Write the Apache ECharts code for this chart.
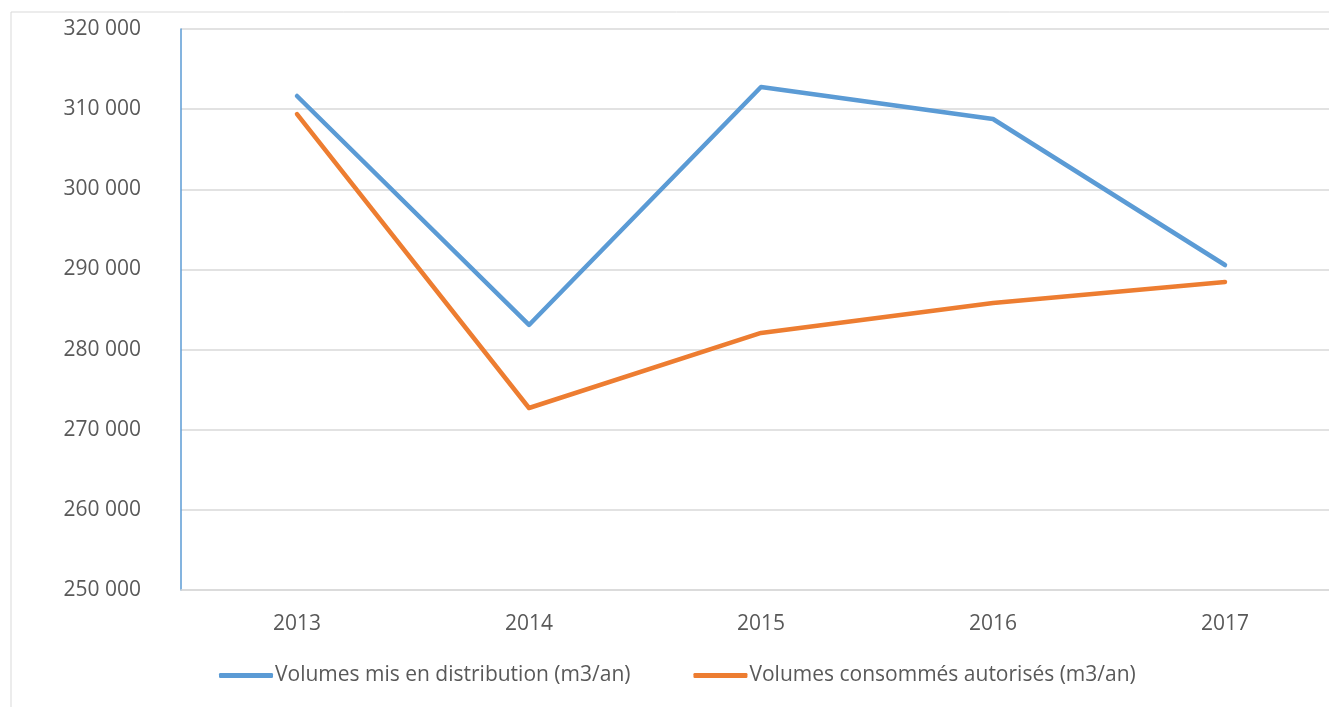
<!DOCTYPE html>
<html><head><meta charset="utf-8">
<script src="https://cdn.jsdelivr.net/npm/echarts@6/dist/echarts.min.js"></script>
<style>html,body{margin:0;padding:0;background:#fff;overflow:hidden}#c{width:1341px;height:707px}</style>
</head><body><div id="c"></div>
<script>
const categories = ['2013','2014','2015','2016','2017'];
const seriesNames = ['Volumes mis en distribution (m3/an)','Volumes consommés autorisés (m3/an)'];
const distribution = [311640, 283070, 312760, 308770, 290550];
const consommes = [309390, 272710, 282070, 285810, 288430];
const yTicks = {min:250000, max:320000, interval:10000};

const chart = echarts.init(document.getElementById('c'));
const font = "'Open Sans', 'Liberation Sans', sans-serif";
chart.setOption({
  animation:false,
  graphic:[{type:'rect',shape:{x:11,y:12,width:1400,height:800},style:{fill:'none',stroke:'#d9d9d9',lineWidth:1},z:-1}],
  grid:{left:181, right:0, top:29, bottom:117, containLabel:false},
  legend:{
    bottom:16, left:214, itemWidth:54, itemHeight:5, itemGap:63,
    icon:'roundRect',
    textStyle:{color:'#595959', fontSize:21, fontFamily:font, padding:[0,0,0,-3]},
    data:seriesNames
  },
  xAxis:{type:'category', data:categories, boundaryGap:true,
    axisLine:{lineStyle:{color:'#d9d9d9', width:1.5}}, axisTick:{show:false},
    axisLabel:{color:'#595959', fontSize:21, fontFamily:font, margin:24}},
  yAxis:{type:'value', min:yTicks.min, max:yTicks.max, interval:yTicks.interval,
    axisLine:{show:true, lineStyle:{color:'#5B9BD5', width:1.5}}, axisTick:{show:false},
    splitLine:{lineStyle:{color:'#d9d9d9', width:1.5}},
    axisLabel:{color:'#595959', fontSize:21, fontFamily:font, margin:40,
      formatter:v=>String(v).replace(/\B(?=(\d{3})+(?!\d))/g,' ')}},
  series:[
    {name:seriesNames[0], type:'line', data:distribution, symbol:'none',
      lineStyle:{color:'#5B9BD5', width:4.5, cap:'round', join:'round'}, itemStyle:{color:'#5B9BD5'}},
    {name:seriesNames[1], type:'line', data:consommes, symbol:'none',
      lineStyle:{color:'#ED7D31', width:4.5, cap:'round', join:'round'}, itemStyle:{color:'#ED7D31'}}
  ]
});
</script></body></html>
